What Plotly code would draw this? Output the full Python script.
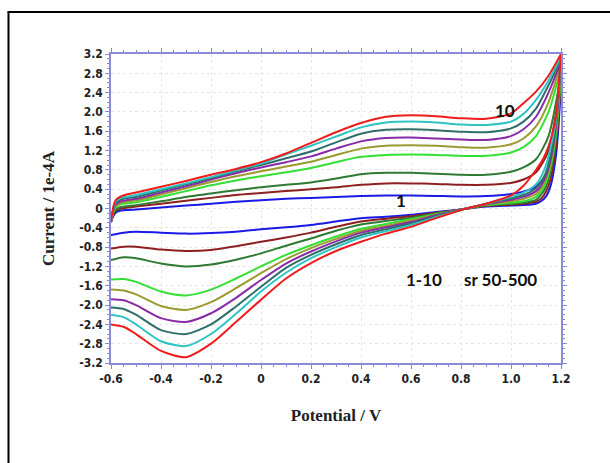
import plotly.graph_objects as go

# Potentials (V) for forward (anodic) and reverse (cathodic) scans
x_fwd = [-0.6, -0.59, -0.58, -0.56, -0.53, -0.5, -0.4, -0.3, -0.2, -0.1, 0.0, 0.1, 0.2, 0.3,
         0.4, 0.5, 0.6, 0.7, 0.8, 0.9, 1.0, 1.05, 1.1, 1.15, 1.2]
x_rev = [1.2, 1.19, 1.18, 1.16, 1.14, 1.12, 1.1, 1.05, 1.0, 0.9, 0.8, 0.7, 0.6, 0.5, 0.4,
         0.3, 0.2, 0.1, 0.0, -0.1, -0.2, -0.3, -0.4, -0.5, -0.55, -0.6]

# Current (1e-4 A), scans 1..10 (sr 50-500)
fwd_1 = [-0.27, -0.15, -0.08, -0.04, -0.03, -0.02, 0.02, 0.06, 0.1, 0.14, 0.17, 0.2, 0.22, 0.24,
         0.26, 0.27, 0.27, 0.26, 0.25, 0.26, 0.3, 0.35, 0.45, 0.8, 2.6]
rev_1 = [2.6, 1.7, 1.1, 0.5, 0.25, 0.15, 0.1, 0.07, 0.06, 0.04, -0.02, -0.07, -0.13, -0.17, -0.2,
         -0.27, -0.34, -0.39, -0.43, -0.48, -0.51, -0.52, -0.5, -0.48, -0.5, -0.55]

fwd_2 = [-0.28, -0.12, -0.04, 0.0, 0.02, 0.04, 0.1, 0.16, 0.22, 0.28, 0.32, 0.36, 0.4, 0.44,
         0.49, 0.52, 0.52, 0.51, 0.49, 0.49, 0.53, 0.6, 0.75, 1.2, 2.7]
rev_2 = [2.7, 1.9, 1.3, 0.65, 0.35, 0.2, 0.14, 0.1, 0.08, 0.05, -0.02, -0.09, -0.16, -0.21, -0.27,
         -0.38, -0.5, -0.6, -0.69, -0.78, -0.86, -0.88, -0.85, -0.79, -0.79, -0.83]

fwd_3 = [-0.28, -0.1, -0.02, 0.03, 0.05, 0.07, 0.15, 0.24, 0.31, 0.38, 0.44, 0.49, 0.54, 0.62,
         0.71, 0.74, 0.74, 0.72, 0.7, 0.7, 0.76, 0.85, 1.02, 1.5, 2.8]
rev_3 = [2.8, 2.0, 1.45, 0.8, 0.45, 0.28, 0.18, 0.12, 0.1, 0.06, -0.02, -0.1, -0.19, -0.26, -0.33,
         -0.46, -0.62, -0.77, -0.93, -1.06, -1.16, -1.2, -1.14, -1.03, -1.01, -1.07]

fwd_4 = [-0.28, -0.06, 0.03, 0.09, 0.11, 0.13, 0.24, 0.36, 0.48, 0.58, 0.67, 0.75, 0.84, 0.96,
         1.07, 1.11, 1.12, 1.11, 1.09, 1.09, 1.16, 1.27, 1.5, 2.0, 2.9]
rev_4 = [2.9, 2.1, 1.55, 0.9, 0.55, 0.35, 0.24, 0.15, 0.12, 0.07, -0.02, -0.12, -0.22, -0.32, -0.42,
         -0.58, -0.76, -0.96, -1.2, -1.45, -1.68, -1.8, -1.72, -1.52, -1.46, -1.47]

fwd_5 = [-0.28, -0.04, 0.06, 0.12, 0.15, 0.17, 0.29, 0.42, 0.55, 0.67, 0.77, 0.87, 0.97, 1.11,
         1.24, 1.3, 1.31, 1.3, 1.27, 1.26, 1.33, 1.45, 1.7, 2.2, 3.0]
rev_5 = [3.0, 2.2, 1.65, 0.98, 0.62, 0.42, 0.3, 0.2, 0.15, 0.08, -0.02, -0.13, -0.25, -0.36, -0.46,
         -0.63, -0.82, -1.05, -1.34, -1.65, -1.94, -2.1, -2.02, -1.78, -1.7, -1.68]

fwd_6 = [-0.28, -0.02, 0.09, 0.15, 0.18, 0.2, 0.33, 0.46, 0.6, 0.73, 0.85, 0.96, 1.08, 1.24,
         1.39, 1.46, 1.47, 1.45, 1.43, 1.42, 1.5, 1.64, 1.9, 2.4, 3.05]
rev_6 = [3.05, 2.3, 1.72, 1.05, 0.68, 0.48, 0.36, 0.24, 0.18, 0.09, -0.02, -0.14, -0.28, -0.39, -0.5,
         -0.68, -0.89, -1.14, -1.48, -1.85, -2.17, -2.35, -2.27, -2.0, -1.9, -1.88]

fwd_7 = [-0.28, 0.0, 0.12, 0.19, 0.22, 0.24, 0.37, 0.5, 0.63, 0.77, 0.9, 1.04, 1.18, 1.37,
         1.55, 1.63, 1.64, 1.62, 1.59, 1.58, 1.66, 1.8, 2.07, 2.55, 3.1]
rev_7 = [3.1, 2.4, 1.8, 1.15, 0.75, 0.55, 0.42, 0.28, 0.21, 0.1, -0.03, -0.16, -0.31, -0.43, -0.55,
         -0.74, -0.96, -1.23, -1.62, -2.03, -2.4, -2.6, -2.52, -2.2, -2.08, -2.05]

fwd_8 = [-0.28, 0.02, 0.15, 0.22, 0.25, 0.28, 0.4, 0.52, 0.65, 0.79, 0.93, 1.12, 1.3, 1.49,
         1.68, 1.78, 1.8, 1.78, 1.74, 1.73, 1.8, 1.96, 2.25, 2.65, 3.15]
rev_8 = [3.15, 2.45, 1.85, 1.3, 0.9, 0.65, 0.5, 0.33, 0.24, 0.1, -0.03, -0.18, -0.34, -0.47, -0.6,
         -0.8, -1.03, -1.33, -1.72, -2.18, -2.6, -2.85, -2.75, -2.4, -2.25, -2.2]

fwd_10 = [-0.28, 0.05, 0.18, 0.25, 0.3, 0.33, 0.45, 0.57, 0.7, 0.82, 0.96, 1.14, 1.36, 1.58,
          1.77, 1.9, 1.93, 1.91, 1.87, 1.86, 1.97, 2.18, 2.42, 2.75, 3.2]
rev_10 = [3.2, 2.5, 1.9, 1.45, 1.15, 0.95, 0.8, 0.47, 0.27, 0.1, -0.03, -0.2, -0.38, -0.52, -0.69,
          -0.88, -1.13, -1.45, -1.89, -2.35, -2.8, -3.08, -2.95, -2.6, -2.45, -2.4]

curves_fwd = [fwd_1, fwd_2, fwd_3, fwd_4, fwd_5, fwd_6, fwd_7, fwd_8, fwd_10]
curves_rev = [rev_1, rev_2, rev_3, rev_4, rev_5, rev_6, rev_7, rev_8, rev_10]
colors = ["#1a1ae6", "#8f1f1f", "#2e7a32", "#33e033", "#9a9a30", "#8a2aa8",
          "#2f6f6a", "#2fc4c4", "#ee1c1c"]

x_ticks = [-0.6, -0.4, -0.2, 0.0, 0.2, 0.4, 0.6, 0.8, 1.0, 1.2]
x_ticktext = ["-0.6", "-0.4", "-0.2", "0", "0.2", "0.4", "0.6", "0.8", "1.0", "1.2"]
y_ticks = [3.2, 2.8, 2.4, 2.0, 1.6, 1.2, 0.8, 0.4, 0.0, -0.4, -0.8, -1.2, -1.6, -2.0, -2.4, -2.8, -3.2]
y_ticktext = ["3.2", "2.8", "2.4", "2.0", "1.6", "1.2", "0.8", "0.4", "0", "-0.4", "-0.8", "-1.2",
              "-1.6", "-2.0", "-2.4", "-2.8", "-3.2"]

fig = go.Figure()
for fy, ry, c in zip(curves_fwd, curves_rev, colors):
    fig.add_trace(go.Scatter(x=x_fwd + x_rev, y=fy + ry, mode="lines",
                             line=dict(color=c, width=2, shape="spline", smoothing=0.7),
                             showlegend=False, hoverinfo="skip"))

tickfont = dict(family="DejaVu Sans Condensed, Liberation Sans Narrow, sans-serif",
                size=12, color="#222222", weight="bold")
axis_common = dict(showline=True, linecolor="#8a8ad6", linewidth=1.5, mirror="ticks",
                   ticks="outside", ticklen=4, tickcolor="#8a8ad6", tickfont=tickfont,
                   showgrid=True, gridcolor="#e6e6e6", griddash="dot", gridwidth=1,
                   zeroline=False)

title_font = dict(family="Liberation Serif, Times New Roman, serif", size=17,
                  color="#222222", weight="bold")
fig.update_xaxes(range=[-0.6, 1.2], tickvals=x_ticks, ticktext=x_ticktext,
                 minor=dict(dtick=0.05, ticks="outside", ticklen=2, tickcolor="#8a8ad6", showgrid=False),
                 title=dict(text="Potential / V", standoff=24, font=title_font),
                 **axis_common)
fig.update_yaxes(range=[-3.2, 3.2], tickvals=y_ticks, ticktext=y_ticktext,
                 minor=dict(dtick=0.1, ticks="outside", ticklen=2, tickcolor="#8a8ad6", showgrid=False),
                 title=dict(text="Current / 1e-4A", standoff=20, font=title_font),
                 **axis_common)

ann_font = dict(family="Lato, Liberation Sans, sans-serif", size=17, color="#111111", weight="bold")
fig.add_annotation(x=0.975, y=2.04, text="10", showarrow=False, font=ann_font)
fig.add_annotation(x=0.56, y=0.17, text="1", showarrow=False, font=ann_font)
fig.add_annotation(x=0.65, y=-1.48, text="1-10", showarrow=False, font=ann_font)
fig.add_annotation(x=0.958, y=-1.48, text="sr 50-500", showarrow=False, font=ann_font)

# outer frame (left and top edges)
L, R, T, B = 111, 49, 54, 100
W, H = 610 - L - R, 463 - T - B
def px(xp):
    return (xp - L) / W
def py(yp):
    return (463 - B - yp) / H
fig.add_shape(type="line", xref="paper", yref="paper", x0=px(8.5), x1=px(8.5), y0=py(12), y1=py(470),
              line=dict(color="black", width=2))
fig.add_shape(type="line", xref="paper", yref="paper", x0=px(7.5), x1=px(620), y0=py(12), y1=py(12),
              line=dict(color="black", width=2))

fig.update_layout(width=610, height=463, margin=dict(l=L, r=R, t=T, b=B),
                  plot_bgcolor="white", paper_bgcolor="white")
fig.write_html("out.html")
